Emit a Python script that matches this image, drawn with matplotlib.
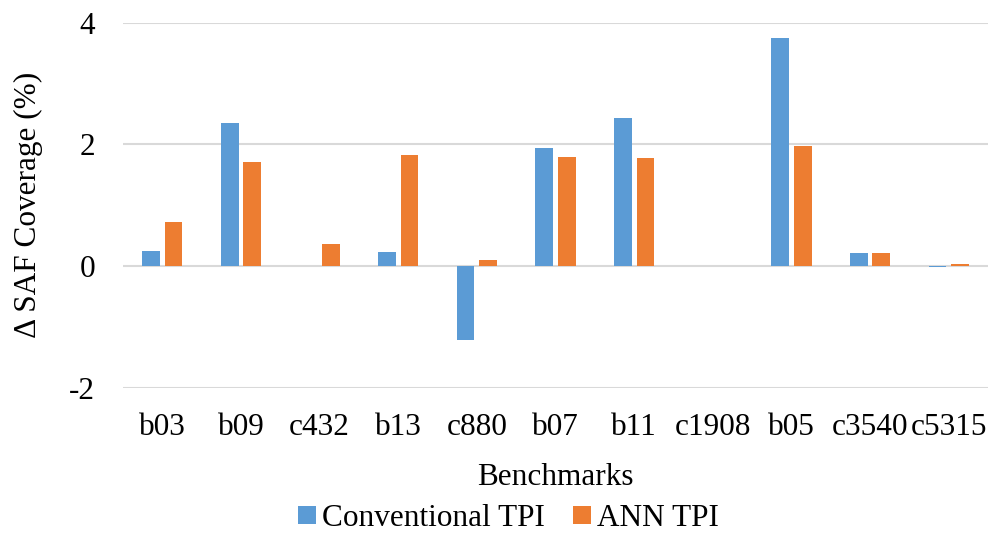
import numpy as np
import matplotlib
matplotlib.use('Agg')
from matplotlib import pyplot as plt
from matplotlib.patches import Patch

benchmarks = ['b03', 'b09', 'c432', 'b13', 'c880', 'b07', 'b11', 'c1908', 'b05', 'c3540', 'c5315']
conventional_tpi = [0.24, 2.35, 0.0, 0.23, -1.21, 1.94, 2.43, 0.0, 3.75, 0.21, -0.02]
ann_tpi = [0.72, 1.71, 0.37, 1.83, 0.10, 1.79, 1.78, 0.0, 1.98, 0.21, 0.03]
yticks = [-2, 0, 2, 4]
ytick_labels = ['-2', '0', '2', '4']

blue = '#5B9BD5'
orange = '#ED7D31'

plt.rcParams['font.family'] = ['Liberation Serif', 'DejaVu Serif']
fs = 22.5

fig = plt.figure(figsize=(9.9, 5.35), dpi=100)
ax = fig.add_axes([0.1242, 0.2753, 0.8738, 0.6823])

x = np.arange(len(benchmarks))
w = 0.225
off = 0.143
ax.bar(x - off, conventional_tpi, w, color=blue, linewidth=0, zorder=3)
ax.bar(x + off, ann_tpi, w, color=orange, linewidth=0, zorder=3)

ax.set_xlim(-0.5, len(benchmarks) - 0.5)
ax.set_ylim(-2, 4)
ax.set_yticks(yticks)
ax.set_yticklabels(ytick_labels)
ax.yaxis.grid(True, color='#D9D9D9', linewidth=1.5, zorder=0)
ax.set_axisbelow(True)
for s in ax.spines.values():
    s.set_visible(False)
ax.tick_params(axis='both', length=0, labelsize=fs)
ax.tick_params(axis='y', pad=20)
ax.tick_params(axis='x', pad=18)
ax.set_xticks(x)
ax.set_xticklabels(benchmarks)

ax.set_xlabel('Benchmarks', fontsize=fs, labelpad=15.5)
ax.set_ylabel('Δ SAF Coverage (%)', fontsize=fs, labelpad=19)

handles = [Patch(facecolor=blue, label='Conventional TPI'),
           Patch(facecolor=orange, label='ANN TPI')]
fig.legend(handles=handles, loc='center', bbox_to_anchor=(0.514, 0.03), ncol=2,
           frameon=False, fontsize=fs, handlelength=0.55, handleheight=0.52,
           handletextpad=0.22, columnspacing=0.9, borderaxespad=0)

fig.savefig('out.png', dpi=100)
